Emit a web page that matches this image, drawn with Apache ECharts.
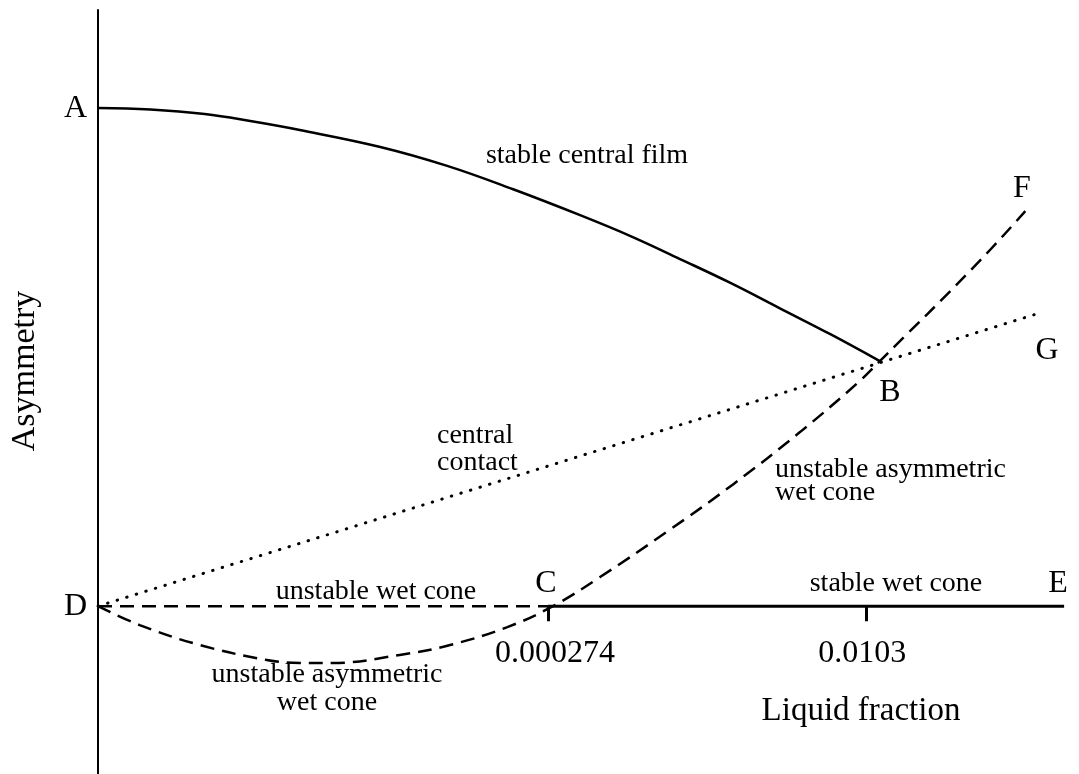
<!DOCTYPE html>
<html>
<head>
<meta charset="utf-8">
<script src="https://cdn.jsdelivr.net/npm/echarts@6/dist/echarts.min.js"></script>
<style>
  html, body { margin: 0; padding: 0; background: #fff; }
  #chart { width: 1079px; height: 774px; }
</style>
</head>
<body>
<div id="chart"></div>
<script>
// schematic units: x 0..100 along liquid fraction, y with D = 0 and A = 100
var filmCurve = [
  [0, 100], [5.4, 99.7], [11.0, 98.8], [15.7, 97.4], [20.8, 95.6], [29.1, 92.2],
  [36.0, 88.4], [42.8, 83.7], [49.7, 78.5], [54.9, 74.3], [60.0, 69.7],
  [65.2, 64.9], [70.3, 59.8], [75.5, 54.6], [80.6, 49.2]
];
var contactLine = [[0, 0], [97.3, 59.0]];
var unstableCone = [[0, 0], [46.4, 0]];
var stableCone = [[46.4, 0], [99.6, 0]];
var asymCone = [
  [0, 0], [4.3, -3.8], [10.5, -7.8], [17.4, -10.8], [20.8, -11.4], [24.2, -11.4],
  [31.1, -9.8], [36.3, -7.8], [42.2, -4.2], [46.9, 0], [51.8, 5.9], [58.7, 15.0],
  [65.5, 24.5], [72.4, 35.0], [78.3, 44.8], [80.6, 49.2], [90.2, 67.9], [95.6, 79.3]
];
var xTickValues = [46.4, 79.2];
var xTickLabels = ["0.000274", "0.0103"];
var yTickValues = [0, 100];
var yTickLabels = ["D", "A"];

var yMin = -33.7, yMax = 119.7;
var serif = '"Liberation Serif", "Times New Roman", serif';

function pickIndex(values, v) {
  var best = 0;
  for (var i = 1; i < values.length; i++) {
    if (Math.abs(values[i] - v) < Math.abs(values[best] - v)) best = i;
  }
  return best;
}

function txt(text, x, y, size, align, lh) {
  return {
    type: "text",
    x: x,
    y: y,
    silent: true,
    style: {
      text: text,
      font: size + "px " + serif,
      fill: "#000",
      textAlign: align || "center",
      textVerticalAlign: "middle",
      lineHeight: lh || size
    }
  };
}

var chart = echarts.init(document.getElementById("chart"));

var gridTop = 10, gridBottom = 0;
var gridH = 774 - gridTop - gridBottom;
// lift the x axis from the grid bottom up to the y = 0 level
var xOffset = -gridH * (0 - yMin) / (yMax - yMin);

var option = {
  backgroundColor: "#fff",
  animation: false,
  grid: { left: 98, right: 11, top: gridTop, bottom: gridBottom, outerBoundsMode: "none" },
  xAxis: {
    type: "value",
    min: 0,
    max: 100,
    position: "bottom",
    offset: xOffset,
    axisLine: { show: false, onZero: false },
    splitLine: { show: false },
    axisTick: {
      show: true,
      customValues: xTickValues,
      length: 15,
      lineStyle: { color: "#000", width: 3 }
    },
    axisLabel: {
      show: true,
      customValues: xTickValues,
      formatter: function (v) {
        var i = pickIndex(xTickValues, v);
        return "{t" + i + "|" + xTickLabels[i] + "}";
      },
      rich: {
        t0: { padding: [0, 0, 0, 14] },
        t1: { padding: [0, 8, 0, 0] }
      },
      margin: 31,
      fontSize: 32,
      fontFamily: serif,
      color: "#000"
    }
  },
  yAxis: {
    type: "value",
    min: yMin,
    max: yMax,
    axisLine: { show: true, lineStyle: { color: "#000", width: 2 } },
    axisTick: { show: false },
    splitLine: { show: false },
    axisLabel: {
      customValues: yTickValues,
      formatter: function (v) { return yTickLabels[pickIndex(yTickValues, v)]; },
      margin: 11,
      fontSize: 32,
      fontFamily: serif,
      color: "#000"
    }
  },
  series: [
    {
      name: "stable central film",
      type: "line",
      data: filmCurve,
      smooth: 0.4,
      symbol: "none",
      silent: true,
      lineStyle: { color: "#000", width: 2.5 }
    },
    {
      name: "central contact",
      type: "line",
      data: contactLine,
      symbol: "none",
      silent: true,
      lineStyle: { color: "#000", width: 3, type: [0.5, 9.5], cap: "round" }
    },
    {
      name: "unstable wet cone",
      type: "line",
      data: unstableCone,
      symbol: "none",
      silent: true,
      lineStyle: { color: "#000", width: 2.5, type: [14, 8] }
    },
    {
      name: "stable wet cone",
      type: "line",
      data: stableCone,
      symbol: "none",
      silent: true,
      lineStyle: { color: "#000", width: 3 }
    },
    {
      name: "unstable asymmetric wet cone",
      type: "line",
      data: asymCone,
      smooth: 0.4,
      symbol: "none",
      silent: true,
      lineStyle: { color: "#000", width: 2.5, type: [14, 8] }
    }
  ],
  graphic: [
    txt("stable central film", 587, 156, 28),
    txt("central\ncontact", 437, 449, 28, "left", 27),
    txt("unstable asymmetric\nwet cone", 775, 481, 28, "left", 23),
    txt("unstable wet cone", 376, 592, 28),
    txt("unstable asymmetric\nwet cone", 327, 689, 28, "center", 28),
    txt("stable wet cone", 896, 584, 28),
    txt("B", 890, 393, 32),
    txt("C", 546, 584, 32),
    txt("E", 1058, 584, 32),
    txt("F", 1022, 189, 32),
    txt("G", 1047, 351, 32),
    txt("Liquid fraction", 861, 711, 33),
    {
      type: "text",
      x: 25,
      y: 371,
      rotation: Math.PI / 2,
      silent: true,
      style: {
        text: "Asymmetry",
        font: "34px " + serif,
        fill: "#000",
        textAlign: "center",
        textVerticalAlign: "middle"
      }
    }
  ]
};

chart.setOption(option);
</script>
</body>
</html>
